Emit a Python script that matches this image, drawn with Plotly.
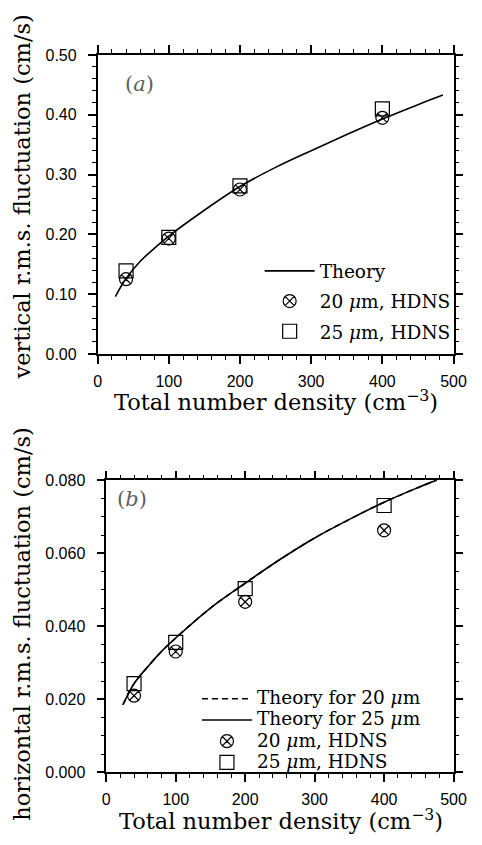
import plotly.graph_objects as go

# ---------------- data ----------------
density = [40, 100, 200, 400]

vert_20 = [0.125, 0.193, 0.275, 0.395]
vert_25 = [0.139, 0.195, 0.281, 0.410]
theory_v_x = [25, 40, 60, 80, 100, 140, 200, 250, 300, 350, 400, 450, 485]
theory_v_y = [0.096, 0.126, 0.155, 0.177, 0.197, 0.232, 0.280, 0.312, 0.340,
              0.367, 0.393, 0.417, 0.433]

horiz_20 = [0.0210, 0.0331, 0.0467, 0.0663]
horiz_25 = [0.0243, 0.0356, 0.0503, 0.0731]
theory_h_x = [24, 40, 60, 80, 100, 150, 200, 250, 300, 350, 400, 450, 476]
theory_h20_y = [0.0185, 0.0243, 0.0290, 0.0332, 0.0368, 0.0450, 0.0518, 0.0583,
                0.0642, 0.0693, 0.0740, 0.0781, 0.0801]
theory_h25_y = [0.0185, 0.0243, 0.0290, 0.0332, 0.0368, 0.0450, 0.0518, 0.0583,
                0.0642, 0.0693, 0.0740, 0.0781, 0.0801]

x_ticks = [0, 100, 200, 300, 400, 500]
v_ticks = [0.0, 0.1, 0.2, 0.3, 0.4, 0.5]
h_ticks = [0.0, 0.02, 0.04, 0.06, 0.08]

# ---------------- styling ----------------
W, H = 482, 845
SERIF = "DejaVu Serif"
TICKFONT = "Liberation Sans"
MU = "<i>\u03bc</i>m"
LEG = "<span style='font-size:18.5px'>%s</span>"
TITLE_SIZE = 22.5

def px_x(p):
    return p / W

def px_y(p):
    return (H - p) / H

fig = go.Figure()

# top panel
fig.add_trace(go.Scatter(x=theory_v_x, y=theory_v_y, mode="lines", line_shape="spline",
                         line=dict(color="black", width=1.6),
                         name=LEG % "Theory",
                         xaxis="x", yaxis="y", legend="legend", legendgroup="a1", legendrank=1))
fig.add_trace(go.Scatter(x=density, y=vert_25, mode="markers",
                         marker=dict(symbol="square-open", size=14, color="black", line=dict(width=1.2)),
                         name=LEG % ("25 " + MU + ", HDNS"),
                         xaxis="x", yaxis="y", legend="legend", legendgroup="a3", legendrank=3))
fig.add_trace(go.Scatter(x=density, y=vert_20, mode="markers",
                         marker=dict(symbol="circle-x-open", size=13, color="black", line=dict(width=1.2)),
                         name=LEG % ("20 " + MU + ", HDNS"),
                         xaxis="x", yaxis="y", legend="legend", legendgroup="a2", legendrank=2))

# bottom panel
fig.add_trace(go.Scatter(x=theory_h_x, y=theory_h20_y, mode="lines", line_shape="spline",
                         line=dict(color="black", width=1.6, dash="6px,4px"),
                         name=LEG % ("Theory for 20 " + MU),
                         xaxis="x2", yaxis="y2", legend="legend2", legendrank=1))
fig.add_trace(go.Scatter(x=theory_h_x, y=theory_h25_y, mode="lines", line_shape="spline",
                         line=dict(color="black", width=1.6),
                         name=LEG % ("Theory for 25 " + MU),
                         xaxis="x2", yaxis="y2", legend="legend2", legendrank=2))
fig.add_trace(go.Scatter(x=density, y=horiz_25, mode="markers",
                         marker=dict(symbol="square-open", size=14, color="black", line=dict(width=1.2)),
                         name=LEG % ("25 " + MU + ", HDNS"),
                         xaxis="x2", yaxis="y2", legend="legend2", legendrank=4))
fig.add_trace(go.Scatter(x=density, y=horiz_20, mode="markers",
                         marker=dict(symbol="circle-x-open", size=13, color="black", line=dict(width=1.2)),
                         name=LEG % ("20 " + MU + ", HDNS"),
                         xaxis="x2", yaxis="y2", legend="legend2", legendrank=3))

axis_common = dict(showline=True, linecolor="black", linewidth=1.5, mirror="allticks",
                   ticks="outside", ticklen=8, tickwidth=1.5, tickcolor="black",
                   showgrid=False, zeroline=False,
                   tickfont=dict(family=TICKFONT, size=16, color="black"))

fig.update_layout(
    width=W, height=H, margin=dict(l=0, r=0, t=0, b=0),
    paper_bgcolor="white", plot_bgcolor="white",
    xaxis=dict(axis_common, domain=[px_x(97), px_x(466)], range=[0, 500], anchor="y",
               tickvals=x_ticks, ticktext=[str(v) for v in x_ticks], ticklabelstandoff=4,
               minor=dict(dtick=20, ticks="outside", ticklen=4, tickwidth=1, tickcolor="black")),
    yaxis=dict(axis_common, domain=[px_y(353), px_y(48)], range=[0, 0.5], anchor="x",
               tickvals=v_ticks, ticktext=["%.2f" % v for v in v_ticks], ticklabelstandoff=8,
               minor=dict(dtick=0.02, ticks="outside", ticklen=4, tickwidth=1, tickcolor="black")),
    xaxis2=dict(axis_common, domain=[px_x(106), px_x(466)], range=[0, 500], anchor="y2",
                tickvals=x_ticks, ticktext=[str(v) for v in x_ticks], ticklabelstandoff=4,
                minor=dict(dtick=20, ticks="outside", ticklen=4, tickwidth=1, tickcolor="black")),
    yaxis2=dict(axis_common, domain=[px_y(780), px_y(482)], range=[0, 0.08], anchor="x2",
                tickvals=h_ticks, ticktext=["%.3f" % v for v in h_ticks], ticklabelstandoff=8,
                minor=dict(dtick=0.005, ticks="outside", ticklen=4, tickwidth=1, tickcolor="black")),
    legend=dict(x=px_x(265), y=px_y(249), xanchor="left", yanchor="top",
                bgcolor="rgba(0,0,0,0)", itemwidth=50, tracegroupgap=2.5,
                font=dict(family=SERIF, size=19, color="black")),
    legend2=dict(x=px_x(200), y=px_y(689), xanchor="left", yanchor="top",
                 bgcolor="rgba(0,0,0,0)", itemwidth=50, tracegroupgap=0,
                 font=dict(family=SERIF, size=14, color="black")),
    showlegend=True,
)

annotations = [
    dict(text="Total number density (cm<sup>\u22123</sup>)", x=px_x(282), y=px_y(401),
         xref="paper", yref="paper", showarrow=False, xanchor="center", yanchor="middle",
         font=dict(family=SERIF, size=TITLE_SIZE, color="black")),
    dict(text="Total number density (cm<sup>\u22123</sup>)", x=px_x(287), y=px_y(828),
         xref="paper", yref="paper", showarrow=False, xanchor="center", yanchor="middle",
         font=dict(family=SERIF, size=TITLE_SIZE, color="black")),
    dict(text="vertical r.m.s. fluctuation (cm/s)", x=px_x(19), y=px_y(193), textangle=-90,
         xref="paper", yref="paper", showarrow=False, xanchor="center", yanchor="middle",
         font=dict(family=SERIF, size=TITLE_SIZE, color="black")),
    dict(text="horizontal r.m.s. fluctuation (cm/s)", x=px_x(19), y=px_y(628), textangle=-90,
         xref="paper", yref="paper", showarrow=False, xanchor="center", yanchor="middle",
         font=dict(family=SERIF, size=TITLE_SIZE, color="black")),
    dict(text="(<i>a</i>)", x=px_x(140), y=px_y(78),
         xref="paper", yref="paper", showarrow=False, xanchor="center", yanchor="middle",
         font=dict(family=SERIF, size=21, color="#606060")),
    dict(text="(<i>b</i>)", x=px_x(133), y=px_y(501),
         xref="paper", yref="paper", showarrow=False, xanchor="center", yanchor="middle",
         font=dict(family=SERIF, size=21, color="#606060")),
]
fig.update_layout(annotations=annotations)

fig.write_html("out.html")
